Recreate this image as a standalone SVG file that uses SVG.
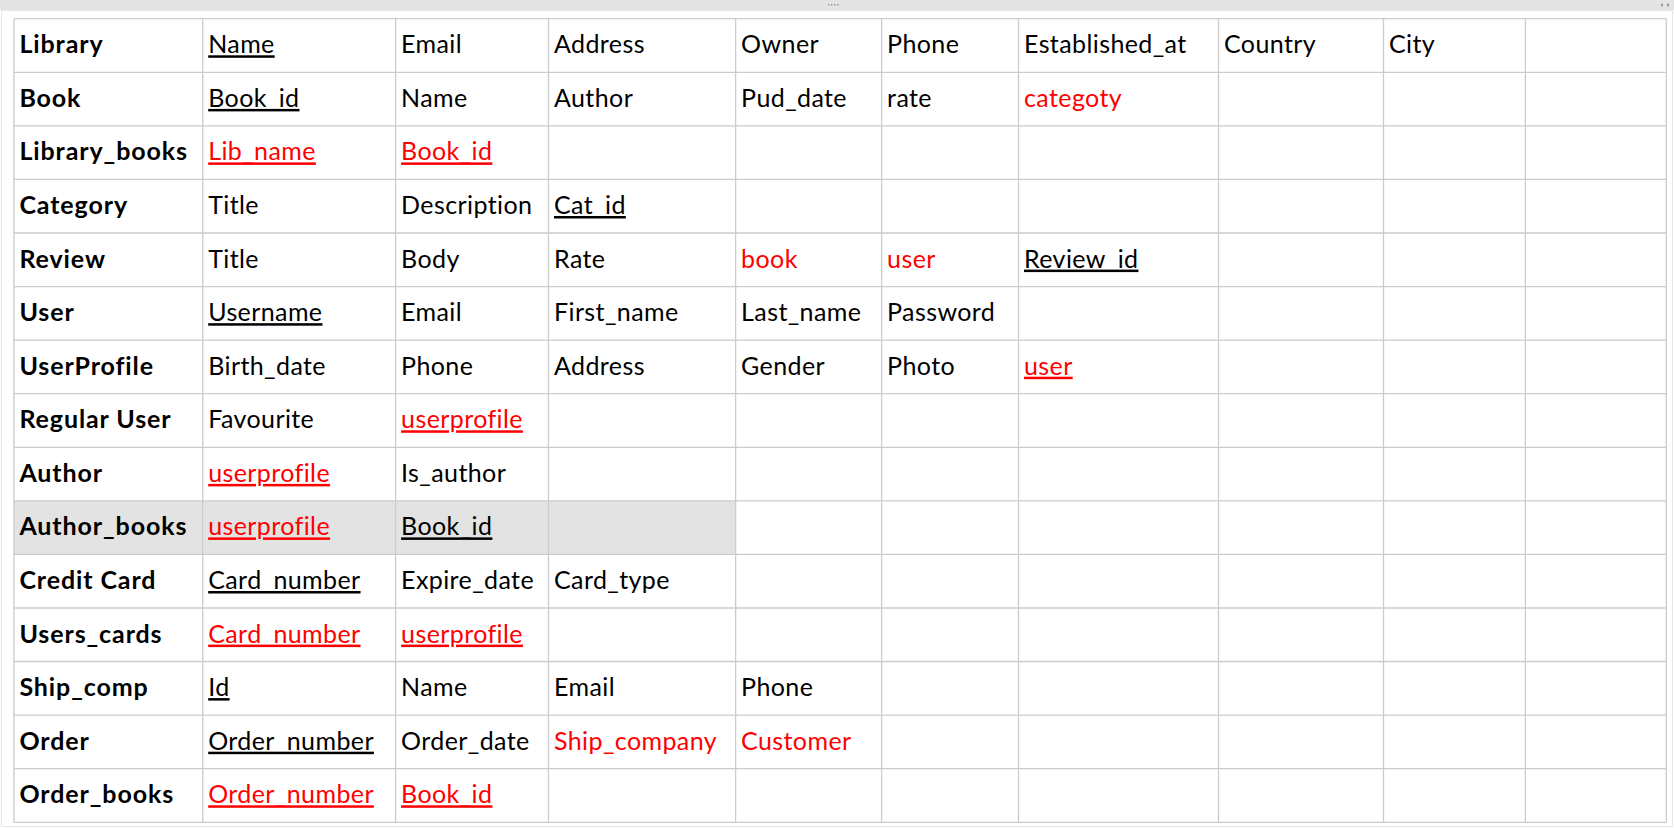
<svg xmlns="http://www.w3.org/2000/svg" width="1674" height="828" viewBox="0 0 1674 828">
<style>
text{font-family:Lato,"Open Sans","Liberation Sans",sans-serif;font-size:25px;letter-spacing:0.4px;fill:#000}
.h{font-weight:bold;letter-spacing:0.9px}
.r{fill:#ff0000}
.u{text-decoration:underline}
.g{stroke:#cccccc;stroke-width:1.3;fill:none}
</style>
<rect x="0" y="0" width="1674" height="828" fill="#ffffff"/>
<rect x="0" y="0" width="1674" height="10" fill="#e4e4e4"/>
<g fill="#9a9a9a"><rect x="828" y="4" width="1.5" height="1.5"/><rect x="831" y="4" width="1.5" height="1.5"/><rect x="834" y="4" width="1.5" height="1.5"/><rect x="837" y="4" width="1.5" height="1.5"/>
<path d="M1663 3 L1660 5 L1663 7 Z M1667 3 L1670 5 L1667 7 Z"/></g>
<rect x="1.5" y="10.5" width="1671" height="816" fill="none" stroke="#e6e6e6" stroke-width="1"/>
<rect x="13.9" y="500.8" width="721.7" height="53.6" fill="#e3e3e3"/>
<g id="grid" class="g">
<path d="M13.9 18.7H1666.3M13.9 72.3H1666.3M13.9 125.8H1666.3M13.9 179.4H1666.3M13.9 233H1666.3M13.9 286.6H1666.3M13.9 340.1H1666.3M13.9 393.7H1666.3M13.9 447.3H1666.3M13.9 500.8H1666.3M13.9 554.4H1666.3M13.9 608H1666.3M13.9 661.5H1666.3M13.9 715.1H1666.3M13.9 768.7H1666.3M13.9 822.3H1666.3"/>
<path d="M13.9 18.7V822.3M202.7 18.7V822.3M395.6 18.7V822.3M548.5 18.7V822.3M735.6 18.7V822.3M881.6 18.7V822.3M1018.5 18.7V822.3M1218.5 18.7V822.3M1383.5 18.7V822.3M1525.4 18.7V822.3M1666.3 18.7V822.3"/>
</g>
<g transform="translate(0,1)">
<g id="library"><text class="h" x="19.4" y="52.3">Library</text><text class="u" x="208.2" y="52.3">Name</text><text x="401.1" y="52.3">Email</text><text x="554" y="52.3">Address</text><text x="741.1" y="52.3">Owner</text><text x="887.1" y="52.3">Phone</text><text x="1024" y="52.3">Established_at</text><text x="1224" y="52.3">Country</text><text x="1389" y="52.3">City</text></g>
<g id="book"><text class="h" x="19.4" y="105.9">Book</text><text class="u" x="208.2" y="105.9">Book_id</text><text x="401.1" y="105.9">Name</text><text x="554" y="105.9">Author</text><text x="741.1" y="105.9">Pud_date</text><text x="887.1" y="105.9">rate</text><text class="r" x="1024" y="105.9">categoty</text></g>
<g id="library_books"><text class="h" x="19.4" y="159.4">Library_books</text><text class="r u" x="208.2" y="159.4">Lib_name</text><text class="r u" x="401.1" y="159.4">Book_id</text></g>
<g id="category"><text class="h" x="19.4" y="213">Category</text><text x="208.2" y="213">Title</text><text x="401.1" y="213">Description</text><text class="u" x="554" y="213">Cat_id</text></g>
<g id="review"><text class="h" x="19.4" y="266.6">Review</text><text x="208.2" y="266.6">Title</text><text x="401.1" y="266.6">Body</text><text x="554" y="266.6">Rate</text><text class="r" x="741.1" y="266.6">book</text><text class="r" x="887.1" y="266.6">user</text><text class="u" x="1024" y="266.6">Review_id</text></g>
<g id="user"><text class="h" x="19.4" y="320.2">User</text><text class="u" x="208.2" y="320.2">Username</text><text x="401.1" y="320.2">Email</text><text x="554" y="320.2">First_name</text><text x="741.1" y="320.2">Last_name</text><text x="887.1" y="320.2">Password</text></g>
<g id="userprofile"><text class="h" x="19.4" y="373.7">UserProfile</text><text x="208.2" y="373.7">Birth_date</text><text x="401.1" y="373.7">Phone</text><text x="554" y="373.7">Address</text><text x="741.1" y="373.7">Gender</text><text x="887.1" y="373.7">Photo</text><text class="r u" x="1024" y="373.7">user</text></g>
<g id="regular_user"><text class="h" x="19.4" y="427.3">Regular User</text><text x="208.2" y="427.3">Favourite</text><text class="r u" x="401.1" y="427.3">userprofile</text></g>
<g id="author"><text class="h" x="19.4" y="480.9">Author</text><text class="r u" x="208.2" y="480.9">userprofile</text><text x="401.1" y="480.9">Is_author</text></g>
<g id="author_books"><text class="h" x="19.4" y="534.4">Author_books</text><text class="r u" x="208.2" y="534.4">userprofile</text><text class="u" x="401.1" y="534.4">Book_id</text></g>
<g id="credit_card"><text class="h" x="19.4" y="588">Credit Card</text><text class="u" x="208.2" y="588">Card_number</text><text x="401.1" y="588">Expire_date</text><text x="554" y="588">Card_type</text></g>
<g id="users_cards"><text class="h" x="19.4" y="641.6">Users_cards</text><text class="r u" x="208.2" y="641.6">Card_number</text><text class="r u" x="401.1" y="641.6">userprofile</text></g>
<g id="ship_comp"><text class="h" x="19.4" y="695.1">Ship_comp</text><text class="u" x="208.2" y="695.1">Id</text><text x="401.1" y="695.1">Name</text><text x="554" y="695.1">Email</text><text x="741.1" y="695.1">Phone</text></g>
<g id="order"><text class="h" x="19.4" y="748.7">Order</text><text class="u" x="208.2" y="748.7">Order_number</text><text x="401.1" y="748.7">Order_date</text><text class="r" x="554" y="748.7">Ship_company</text><text class="r" x="741.1" y="748.7">Customer</text></g>
<g id="order_books"><text class="h" x="19.4" y="802.3">Order_books</text><text class="r u" x="208.2" y="802.3">Order_number</text><text class="r u" x="401.1" y="802.3">Book_id</text></g>
</g>
</svg>
